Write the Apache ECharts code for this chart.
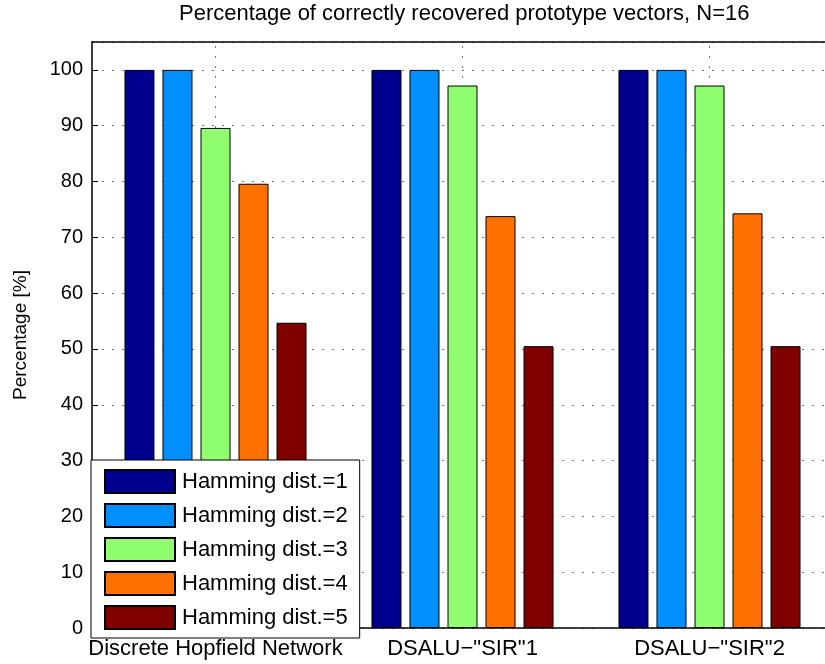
<!DOCTYPE html>
<html>
<head>
<meta charset="utf-8">
<script src="https://cdn.jsdelivr.net/npm/echarts@6/dist/echarts.min.js"></script>
<style>html,body{margin:0;padding:0;background:#fff;overflow:hidden;width:825px;height:664px}#c{width:850px;height:664px}</style>
</head>
<body>
<div id="c"></div>
<script>
const categories = ['Discrete Hopfield Network', 'DSALU\u2212"SIR"1', 'DSALU\u2212"SIR"2'];
const seriesNames = ['Hamming dist.=1', 'Hamming dist.=2', 'Hamming dist.=3', 'Hamming dist.=4', 'Hamming dist.=5'];
const hd1 = [100, 100, 100];
const hd2 = [100, 100, 100];
const hd3 = [89.6, 97.2, 97.2];
const hd4 = [79.6, 73.8, 74.3];
const hd5 = [54.7, 50.5, 50.5];
const yTicks = [0, 10, 20, 30, 40, 50, 60, 70, 80, 90, 100];
const colors = ['#00008F', '#008FFF', '#8FFF70', '#FF7000', '#800000'];
const allValues = [hd1, hd2, hd3, hd4, hd5];

const FONT = 'Liberation Sans';
const gridDot = { color: '#777', width: 1, type: [2, 8] };

const chart = echarts.init(document.getElementById('c'), null, { renderer: 'canvas' });
const series = allValues.map((vals, i) => {
  const s = {
    name: seriesNames[i],
    type: 'bar',
    data: vals,
    barWidth: 30,
    barGap: '26.7%',
    itemStyle: { color: colors[i], borderColor: '#000', borderWidth: 1 },
    emphasis: { disabled: true },
    animation: false
  };
  if (i === 2) {
    s.markLine = {
      z: 1,
      silent: true,
      symbol: ['none', 'none'],
      label: { show: false },
      lineStyle: gridDot,
      emphasis: { disabled: true },
      data: categories.map(c => ({ xAxis: c }))
    };
  }
  return s;
});

chart.setOption({
  animation: false,
  textStyle: { fontFamily: FONT },
  title: {
    text: 'Percentage of correctly recovered prototype vectors, N=16',
    left: 179, top: 3, padding: 0,
    textStyle: { fontFamily: FONT, fontSize: 22, fontWeight: 'normal', color: '#000' }
  },
  grid: { left: 92, top: 42, width: 741, height: 586, containLabel: false },
  legend: {
    orient: 'vertical',
    left: 91, top: 460,
    padding: [9, 12, 8, 13],
    itemWidth: 70, itemHeight: 23, itemGap: 9,
    backgroundColor: '#fff',
    borderColor: '#000', borderWidth: 1,
    icon: 'rect',
    selectedMode: false,
    z: 10,
    textStyle: { fontFamily: FONT, fontSize: 22, color: '#000', padding: [0, 0, 0, 2] },
    data: seriesNames
  },
  xAxis: [
    {
      type: 'category',
      data: categories,
      position: 'bottom',
      axisLine: { lineStyle: { color: '#000', width: 1.5 } },
      axisTick: { alignWithLabel: true, inside: true, length: 6, lineStyle: { color: '#000' } },
      axisLabel: { fontFamily: FONT, fontSize: 22, color: '#000', margin: 10, interval: 0, hideOverlap: false },
      splitLine: { show: false }
    },
    {
      type: 'category',
      data: categories,
      position: 'top',
      axisLine: { lineStyle: { color: '#000', width: 1.5 } },
      axisTick: { alignWithLabel: true, inside: true, length: 6, lineStyle: { color: '#000' } },
      axisLabel: { show: false },
      splitLine: { show: false }
    }
  ],
  yAxis: {
    type: 'value',
    min: 0, max: 105, interval: 10,
    name: 'Percentage [%]',
    nameLocation: 'middle',
    nameGap: 62,
    nameTextStyle: { fontFamily: FONT, fontSize: 19, color: '#000' },
    axisLine: { show: true, lineStyle: { color: '#000', width: 1.5 } },
    axisTick: { show: true, inside: true, length: 6, lineStyle: { color: '#000' } },
    axisLabel: {
      fontFamily: FONT, fontSize: 20, color: '#000', margin: 9,
      showMaxLabel: false,
      formatter: v => (yTicks.indexOf(v) >= 0 ? String(v) : '')
    },
    splitLine: { show: true, lineStyle: gridDot }
  },
  series: series
});
</script>
</body>
</html>
